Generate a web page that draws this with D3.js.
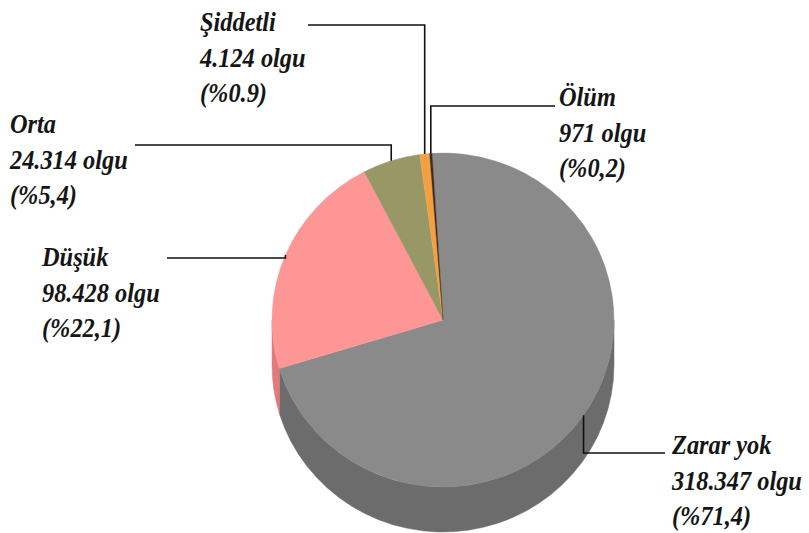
<!DOCTYPE html>
<html>
<head>
<meta charset="utf-8">
<script src="https://cdn.jsdelivr.net/npm/d3@7"></script>
</head>
<body style="margin:0">
<script>
// ---- data ----
const categories = ["Zarar yok", "Düşük", "Orta", "Şiddetli", "Ölüm"];
const counts = [318347, 98428, 24314, 4124, 971];
const countLabels = ["318.347 olgu", "98.428 olgu", "24.314 olgu", "4.124 olgu", "971 olgu"];
const pctLabels = ["(%71,4)", "(%22,1)", "(%5,4)", "(%0.9)", "(%0,2)"];
const topColors = ["#8a8a8a", "#ff9696", "#989866", "#f4a040", "#3e2a1e"];
const sideColors = ["#6c6c6c", "#e27a7a", "#77774c", "#c87e2c", "#2a1c14"];

// ---- layout ----
const W = 809, H = 533;
const cx = 443, cy = 320, rx = 171, ry = 167, depth = 45;
const startDeg = -3.7;
const labelLayout = [
  { tx: 672, ty: 454, ey: 453, ex: 665 },
  { tx: 42,  ty: 266, ey: 258, ex: 167 },
  { tx: 10,  ty: 133, ey: 145, ex: 135 },
  { tx: 200, ty: 31,  ey: 25,  ex: 308 },
  { tx: 559, ty: 106, ey: 106, ex: 555 }
];
const lineGap = 35.5;
const textScaleX = 0.87;

const svg = d3.select("body").append("svg").attr("width", W).attr("height", H).style("display", "block");

const pie = d3.pie().sort(null).value(d => d)
  .startAngle(startDeg * Math.PI / 180)
  .endAngle((startDeg + 360) * Math.PI / 180);
const arcs = pie(counts);

const pt = (a, dy = 0) => [cx + rx * Math.sin(a), cy - ry * Math.cos(a) + dy];

// side (front half)
const frontA0 = Math.PI / 2, frontA1 = 3 * Math.PI / 2;
const sideG = svg.append("g");
arcs.forEach((d, i) => {
  const a0 = Math.max(d.startAngle, frontA0), a1 = Math.min(d.endAngle, frontA1);
  if (a1 <= a0) return;
  const p0 = pt(a0), p1 = pt(a1), q1 = pt(a1, depth), q0 = pt(a0, depth);
  const large = (a1 - a0) > Math.PI ? 1 : 0;
  const path = `M${p0}A${rx},${ry} 0 ${large} 1 ${p1}L${q1}A${rx},${ry} 0 ${large} 0 ${q0}Z`;
  sideG.append("path").attr("d", path).attr("fill", sideColors[i]).attr("stroke", sideColors[i]).attr("stroke-width", 0.5);
});

// top face
const arcGen = d3.arc().innerRadius(0).outerRadius(rx);
svg.append("g")
  .attr("transform", `translate(${cx},${cy}) scale(1,${ry / rx})`)
  .selectAll("path").data(arcs).join("path")
  .attr("d", arcGen)
  .attr("fill", (d, i) => topColors[i])
  .attr("stroke", (d, i) => topColors[i])
  .attr("stroke-width", 0.4);

// leader lines
const lineG = svg.append("g").attr("fill", "none").attr("stroke", "#111").attr("stroke-width", 1.6);
arcs.forEach((d, i) => {
  const mid = (d.startAngle + d.endAngle) / 2;
  const [ax, ay] = pt(mid);
  const L = labelLayout[i];
  lineG.append("polyline").attr("points", `${ax},${ay} ${ax},${L.ey} ${L.ex},${L.ey}`);
});

// labels
categories.forEach((c, i) => {
  const L = labelLayout[i];
  [c, countLabels[i], pctLabels[i]].forEach((t, k) => {
    svg.append("text")
      .attr("transform", `translate(${L.tx},${L.ty + k * lineGap}) scale(${textScaleX},1)`)
      .style("font-family", '"Liberation Serif"')
      .style("font-weight", "bold")
      .style("font-style", "italic")
      .style("font-size", "28px")
      .style("fill", "#151515")
      .text(t);
  });
});
</script>
</body>
</html>
